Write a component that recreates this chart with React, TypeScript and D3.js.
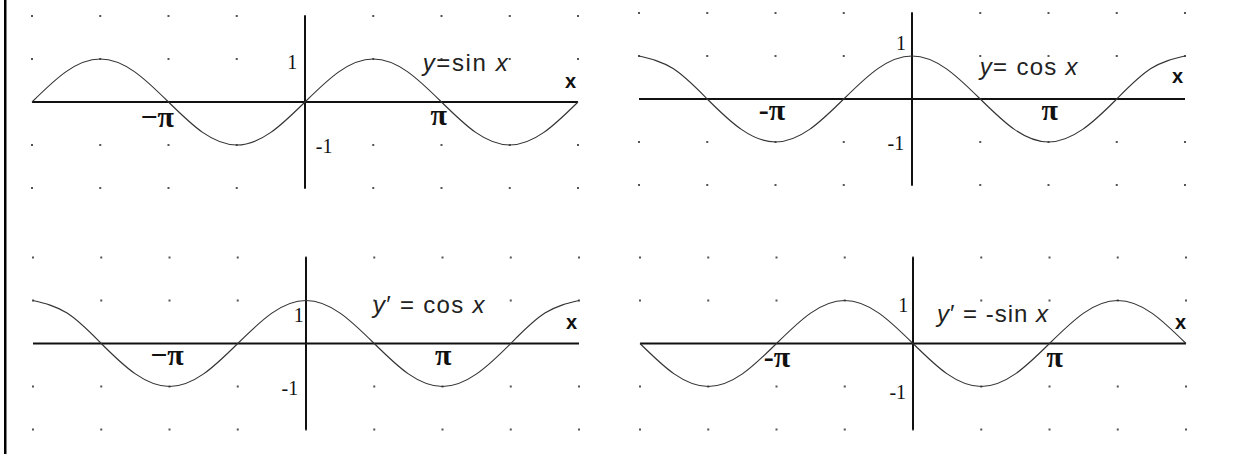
import React from "react";
import * as d3 from "d3";

// Abscissae in multiples of π/4, from −2π to 2π
const quarterPiSteps = [-8, -7, -6, -5, -4, -3, -2, -1, 0, 1, 2, 3, 4, 5, 6, 7, 8];

// Curve values at those abscissae
const sinValues = [0, 0.707, 1, 0.707, 0, -0.707, -1, -0.707, 0, 0.707, 1, 0.707, 0, -0.707, -1, -0.707, 0];
const cosValues = [1, 0.707, 0, -0.707, -1, -0.707, 0, 0.707, 1, 0.707, 0, -0.707, -1, -0.707, 0, 0.707, 1];
const negSinValues = [0, -0.707, -1, -0.707, 0, 0.707, 1, 0.707, 0, -0.707, -1, -0.707, 0, 0.707, 1, 0.707, 0];

// Grid dots: columns every π/2, rows at y = ±1, ±2
const dotColumnsHalfPi = [-4, -3, -2, -1, 0, 1, 2, 3, 4];
const dotRows = [2, 1, -1, -2];

// Equation captions (italic parts flagged)
type Part = { t: string; i?: boolean };
const equations: Part[][] = [
  [{ t: "y", i: true }, { t: "=sin " }, { t: "x", i: true }],
  [{ t: "y", i: true }, { t: "= cos " }, { t: "x", i: true }],
  [{ t: "y", i: true }, { t: "\u2032 = cos " }, { t: "x", i: true }],
  [{ t: "y", i: true }, { t: "\u2032 = -sin " }, { t: "x", i: true }],
];
const seriesByPanel = [sinValues, cosValues, cosValues, negSinValues];
const negPiLabels = ["\u2212\u03c0", "-\u03c0", "\u2212\u03c0", "-\u03c0"];
const piLabel = "\u03c0";
const oneLabel = "1";
const negOneLabel = "-1";
const axisLabel = "x";

// Layout
const W = 1243;
const H = 454;
const UNIT_X = 43.45;
const UNIT_Y = 43;

type XY = [number, number];
interface PanelLayout {
  cx: number;
  cy: number;
  one: XY;
  negOne: XY;
  negOneAnchor: "start" | "end";
  negPi: XY;
  pi: XY;
  eq: XY;
  eqSpacing: number;
  xLab: XY;
}

const panels: PanelLayout[] = [
  { cx: 305, cy: 102, one: [-0.18, 0.77], negOne: [0.25, -1.19], negOneAnchor: "start", negPi: [-3.4, -0.58], pi: [3.08, -0.53], eq: [2.71, 0.72], eqSpacing: 1.6, xLab: [6.11, 0.33] },
  { cx: 912, cy: 99, one: [-0.14, 1.14], negOne: [-0.18, -1.19], negOneAnchor: "end", negPi: [-3.22, -0.49], pi: [3.17, -0.49], eq: [1.56, 0.56], eqSpacing: 1.3, xLab: [6.11, 0.37] },
  { cx: 306, cy: 343.5, one: [-0.05, 0.5], negOne: [-0.18, -1.2], negOneAnchor: "end", negPi: [-3.2, -0.5], pi: [3.16, -0.5], eq: [1.54, 0.71], eqSpacing: 1.3, xLab: [6.11, 0.34] },
  { cx: 913, cy: 343.5, one: [-0.11, 0.73], negOne: [-0.16, -1.29], negOneAnchor: "end", negPi: [-3.13, -0.54], pi: [3.26, -0.54], eq: [0.55, 0.5], eqSpacing: 1.0, xLab: [6.16, 0.34] },
];

const SANS = "'Liberation Sans', Arial, sans-serif";
const SERIF = "'Liberation Serif', 'Times New Roman', serif";

function Panel({ layout, values, eq, negPi }: { layout: PanelLayout; values: number[]; eq: Part[]; negPi: string }) {
  const x = d3
    .scaleLinear()
    .domain([-2 * Math.PI, 2 * Math.PI])
    .range([layout.cx - 2 * Math.PI * UNIT_X, layout.cx + 2 * Math.PI * UNIT_X]);
  const y = d3
    .scaleLinear()
    .domain([-2, 2])
    .range([layout.cy + 2 * UNIT_Y, layout.cy - 2 * UNIT_Y]);

  const pts: [number, number][] = quarterPiSteps.map((k, i) => [(k * Math.PI) / 4, values[i]]);
  const line = d3
    .line<[number, number]>()
    .x((d) => x(d[0]))
    .y((d) => y(d[1]))
    .curve(d3.curveNatural);

  const px = (p: XY) => x(p[0]);
  const py = (p: XY) => y(p[1]);

  return (
    <g>
      {dotRows.map((r) =>
        dotColumnsHalfPi.map((c) => (
          <rect key={`${r}_${c}`} x={x((c * Math.PI) / 2) - 1} y={y(r) - 1} width={2} height={2} fill="#555" />
        ))
      )}
      <line x1={x(-2 * Math.PI)} x2={x(2 * Math.PI)} y1={y(0)} y2={y(0)} stroke="#111" strokeWidth={2} />
      <line x1={x(0)} x2={x(0)} y1={y(2)} y2={y(-2)} stroke="#111" strokeWidth={2} />
      <path d={line(pts) || ""} fill="none" stroke="#333" strokeWidth={1.15} />

      <text x={px(layout.one)} y={py(layout.one)} textAnchor="end" fontFamily={SERIF} fontSize={20} fill="#111">
        {oneLabel}
      </text>
      <text x={px(layout.negOne)} y={py(layout.negOne)} textAnchor={layout.negOneAnchor} fontFamily={SERIF} fontSize={20} fill="#111">
        {negOneLabel}
      </text>
      <text x={px(layout.negPi)} y={py(layout.negPi)} textAnchor="middle" fontFamily={SERIF} fontWeight="bold" fontSize={30} fill="#111">
        {negPi}
      </text>
      <text x={px(layout.pi)} y={py(layout.pi)} textAnchor="middle" fontFamily={SERIF} fontWeight="bold" fontSize={30} fill="#111">
        {piLabel}
      </text>
      <text
        x={px(layout.eq)}
        y={py(layout.eq)}
        fontFamily={SANS}
        fontSize={24}
        fill="#222"
        letterSpacing={layout.eqSpacing}
      >
        {eq.map((p, i) => (
          <tspan key={i} fontStyle={p.i ? "italic" : "normal"}>
            {p.t}
          </tspan>
        ))}
      </text>
      <text x={px(layout.xLab)} y={py(layout.xLab)} textAnchor="middle" fontFamily={SANS} fontWeight="bold" fontSize={20} fill="#111">
        {axisLabel}
      </text>
    </g>
  );
}

export default function App() {
  return (
    <svg
      width={W}
      height={H}
      viewBox={`0 0 ${W} ${H}`}
      style={{ position: "absolute", left: 0, top: 0, display: "block", background: "#fff" }}
    >
      <rect x={0} y={0} width={W} height={H} fill="#fff" />
      <rect x={4} y={0} width={2.5} height={H} fill="#000" />
      {panels.map((p, i) => (
        <Panel key={i} layout={p} values={seriesByPanel[i]} eq={equations[i]} negPi={negPiLabels[i]} />
      ))}
    </svg>
  );
}
